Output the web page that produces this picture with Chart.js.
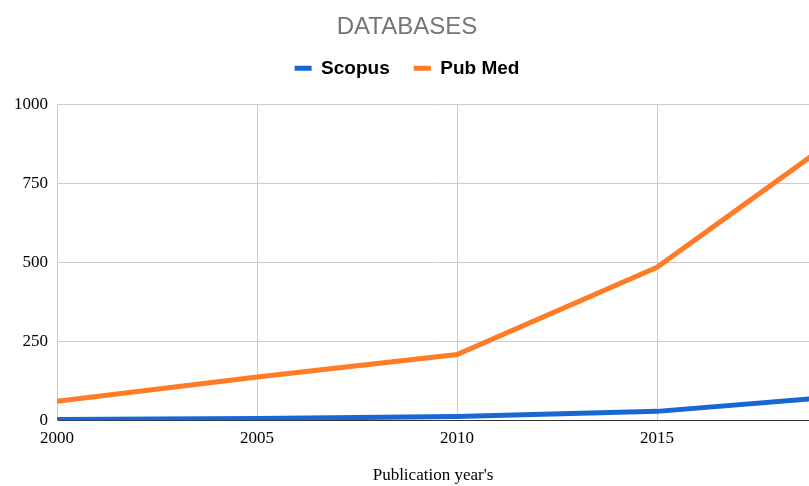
<!DOCTYPE html>
<html>
<head>
<meta charset="utf-8">
<script src="https://cdn.jsdelivr.net/npm/chart.js@4.4.0/dist/chart.umd.min.js"></script>
<style>
html,body{margin:0;padding:0;background:#fff;}
#wrap{width:809px;height:486px;}
</style>
</head>
<body>
<div id="wrap"><canvas id="c" width="809" height="486"></canvas></div>
<script>
const years = [2000, 2005, 2010, 2015, 2019];
const scopus = [2, 5, 12, 28, 69];
const pubmed = [60, 137, 208, 485, 850];
const yTicks = [0, 250, 500, 750, 1000];
const xTicks = [2000, 2005, 2010, 2015];

const toPts = (vals) => years.map((y, i) => ({x: y, y: vals[i]}));

const legendSpace = {
  id: 'legendSpace',
  beforeInit(chart) {
    const lg = chart.legend;
    if (!lg) return;
    const orig = lg.fit;
    lg.fit = function () { orig.call(this); this.height += 17; };
  }
};

new Chart(document.getElementById('c'), {
  type: 'line',
  data: {
    datasets: [
      {label: 'Scopus', data: toPts(scopus), borderColor: '#1967d2', backgroundColor: '#1967d2', borderWidth: 5, pointRadius: 0, tension: 0},
      {label: 'Pub Med', data: toPts(pubmed), borderColor: '#ff7b26', backgroundColor: '#ff7b26', borderWidth: 5, pointRadius: 0, tension: 0}
    ]
  },
  plugins: [legendSpace],
  options: {
    responsive: false,
    animation: false,
    layout: {padding: {left: 5, right: 0, top: 0, bottom: 0}},
    plugins: {
      title: {display: true, text: 'DATABASES', color: '#757575', font: {family: 'Liberation Sans, Arial, sans-serif', size: 24, weight: 'normal'}, padding: {top: 13, bottom: -7}},
      legend: {display: true, labels: {
        color: '#000', boxWidth: 17, boxHeight: 5, padding: 24,
        font: {family: 'Liberation Sans, Arial, sans-serif', size: 19, weight: 'bold'},
        generateLabels: (chart) => chart.data.datasets.map((d, i) => ({
          text: d.label, fillStyle: d.borderColor, strokeStyle: d.borderColor, lineWidth: 0,
          fontColor: '#000', hidden: false, datasetIndex: i
        }))
      }},
      tooltip: {enabled: false}
    },
    scales: {
      x: {
        type: 'linear', min: 2000, max: 2018.8,
        afterBuildTicks: (s) => { s.ticks = xTicks.map(v => ({value: v})); },
        ticks: {color: '#000', padding: 8, maxRotation: 0, callback: (v) => String(v), font: {family: 'Liberation Serif, Times New Roman, serif', size: 17}},
        grid: {color: '#cccccc', drawTicks: false, lineWidth: 1},
        border: {color: '#333', width: 1},
        title: {display: true, text: "Publication year's", color: '#000', padding: {top: 9, bottom: 0}, font: {family: 'Liberation Serif, Times New Roman, serif', size: 17}}
      },
      y: {
        min: 0, max: 1000,
        afterBuildTicks: (s) => { s.ticks = yTicks.map(v => ({value: v})); },
        ticks: {color: '#000', padding: 9, callback: (v) => String(v), font: {family: 'Liberation Serif, Times New Roman, serif', size: 17}},
        grid: {color: (ctx) => ctx.tick && ctx.tick.value === 0 ? '#333' : '#cccccc', drawTicks: false, lineWidth: 1},
        border: {color: '#cccccc', width: 1}
      }
    }
  }
});
</script>
</body>
</html>
